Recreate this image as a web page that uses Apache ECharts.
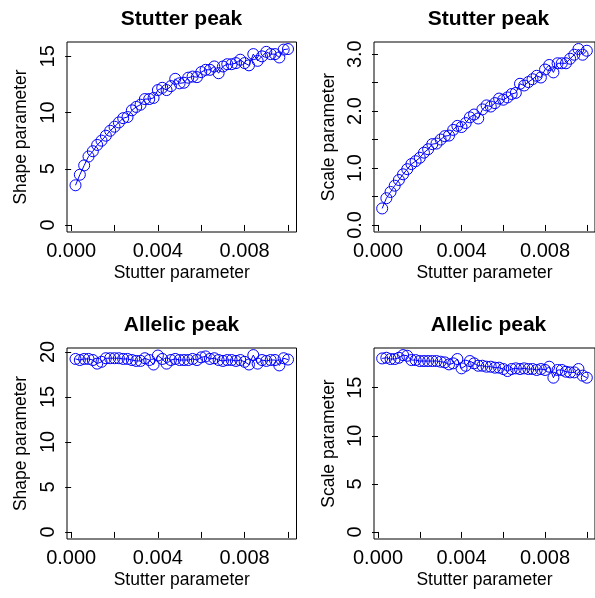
<!DOCTYPE html>
<html>
<head>
<meta charset="utf-8">
<script src="https://cdn.jsdelivr.net/npm/echarts@6/dist/echarts.min.js"></script>
<style>html,body{margin:0;padding:0;background:#fff}#c{width:595px;height:598px}</style>
</head>
<body>
<div id="c"></div>
<script>
// Stutter parameter values (x), 0.0002 .. 0.0100
const stutterParam = [
  0.0002,0.0004,0.0006,0.0008,0.0010,0.0012,0.0014,0.0016,0.0018,0.0020,
  0.0022,0.0024,0.0026,0.0028,0.0030,0.0032,0.0034,0.0036,0.0038,0.0040,
  0.0042,0.0044,0.0046,0.0048,0.0050,0.0052,0.0054,0.0056,0.0058,0.0060,
  0.0062,0.0064,0.0066,0.0068,0.0070,0.0072,0.0074,0.0076,0.0078,0.0080,
  0.0082,0.0084,0.0086,0.0088,0.0090,0.0092,0.0094,0.0096,0.0098,0.0100
];
// Stutter peak: shape parameter
const stutterShape = [
  3.53,4.47,5.30,6.09,6.56,7.12,7.50,7.94,8.38,8.74,
  9.12,9.50,9.60,10.20,10.50,10.70,11.20,11.20,11.30,12.00,
  12.20,12.00,12.35,13.00,12.60,12.65,13.10,13.20,13.15,13.60,
  13.80,13.80,14.10,13.50,14.10,14.30,14.30,14.40,14.70,14.40,
  14.20,15.20,14.60,15.00,15.40,15.20,15.20,14.90,15.60,15.65
];
// Stutter peak: scale parameter
const stutterScale = [
  0.29,0.47,0.58,0.69,0.79,0.89,0.98,1.07,1.12,1.18,
  1.27,1.33,1.42,1.43,1.50,1.56,1.57,1.67,1.74,1.72,
  1.79,1.89,1.94,1.87,2.03,2.10,2.08,2.14,2.22,2.20,
  2.24,2.30,2.32,2.48,2.45,2.51,2.56,2.62,2.59,2.73,
  2.81,2.68,2.84,2.84,2.84,2.92,2.99,3.09,2.99,3.06
];
// Allelic peak: shape parameter
const allelicShape = [
  19.22,19.10,19.22,19.22,19.10,18.70,18.90,19.30,19.30,19.30,
  19.30,19.22,19.22,19.10,19.00,19.00,19.30,19.10,18.60,19.60,
  19.22,18.70,19.10,19.22,19.10,19.10,19.10,19.22,19.10,19.40,
  19.50,19.22,19.30,19.10,19.00,19.10,19.10,19.00,19.10,18.90,
  18.60,19.65,18.70,19.10,19.00,19.10,19.10,18.50,19.30,19.15
];
// Allelic peak: scale parameter
const allelicScale = [
  18.04,18.11,17.98,17.98,18.11,18.39,18.32,17.87,17.87,17.77,
  17.77,17.77,17.77,17.77,17.70,17.63,17.42,17.53,17.98,17.01,
  17.28,17.77,17.53,17.28,17.28,17.18,17.18,17.08,17.08,16.94,
  16.73,16.94,17.01,16.94,17.01,16.94,16.94,16.84,16.94,16.84,
  17.18,16.04,16.84,16.84,16.66,16.59,16.59,16.94,16.25,16.04
];
const panelTitles = ['Stutter peak','Stutter peak','Allelic peak','Allelic peak'];
const yNames = ['Shape parameter','Scale parameter','Shape parameter','Scale parameter'];
const xName = 'Stutter parameter';
const xTicks = [0,0.002,0.004,0.006,0.008,0.010];
const xLabels = [0,0.004,0.008];
const yTicks = [[0,5,10,15],[0,0.5,1,1.5,2,2.5,3],[0,5,10,15,20],[0,5,10,15]];
const yLabels = [[0,5,10,15],[0,1,2,3],[0,5,10,15,20],[0,5,10,15]];
const yLabelDigits = [0,1,0,0];
const seriesData = [stutterShape, stutterScale, allelicShape, allelicScale];

// R-style 4% axis extension
function ext(lo, hi){ const d=(hi-lo)*0.04; return [lo-d, hi+d]; }
const xr = ext(Math.min(...stutterParam), Math.max(...stutterParam));
const yr = seriesData.map(s => ext(0, Math.max(...s)));

const grids = [
  {left:67, top:42, width:229.5, height:190},
  {left:374, top:42, width:229.5, height:190},
  {left:67, top:348, width:229.5, height:191},
  {left:374, top:348, width:229.5, height:191}
];
const yNameGaps = [37, 36, 37, 36];
const FONT = 'Liberation Sans, Arial, sans-serif';

const option = {
  animation:false,
  backgroundColor:'#fff',
  title: panelTitles.map((t,i)=>({
    text:t, left:grids[i].left+114.5, top:grids[i].top-33, textAlign:'center', padding:0,
    textStyle:{fontFamily:FONT, fontSize:21, fontWeight:'bold', color:'#000'}
  })),
  grid: grids.map(g=>Object.assign({show:true, borderColor:'#000', borderWidth:1, backgroundColor:'transparent', containLabel:false}, g)),
  xAxis: grids.map((g,i)=>({
    gridIndex:i, type:'value', min:xr[0], max:xr[1],
    name:xName, nameLocation:'middle', nameGap:32,
    nameTextStyle:{fontFamily:FONT, fontSize:17.5, color:'#000'},
    axisLine:{show:false},
    axisTick:{show:true, length:6, lineStyle:{color:'#000'}, customValues:xTicks},
    axisLabel:{show:true, margin:9, fontFamily:FONT, fontSize:20, color:'#000', customValues:xLabels, formatter:v=>v.toFixed(3)},
    splitLine:{show:false}
  })),
  yAxis: grids.map((g,i)=>({
    gridIndex:i, type:'value', min:yr[i][0], max:yr[i][1],
    name:yNames[i], nameLocation:'middle', nameGap:yNameGaps[i], nameRotate:90,
    nameTextStyle:{fontFamily:FONT, fontSize:17.5, color:'#000'},
    axisLine:{show:false},
    axisTick:{show:true, length:6, lineStyle:{color:'#000'}, customValues:yTicks[i]},
    axisLabel:{show:true, rotate:90, margin:9, fontFamily:FONT, fontSize:20, color:'#000', customValues:yLabels[i], formatter:v=>v.toFixed(yLabelDigits[i])},
    splitLine:{show:false}
  })),
  series: seriesData.map((d,i)=>({
    type:'line', xAxisIndex:i, yAxisIndex:i,
    data: stutterParam.map((x,k)=>[x,d[k]]),
    symbol:'circle', symbolSize:11, showAllSymbol:true,
    itemStyle:{color:'rgba(0,0,0,0)', borderColor:'#0000ff', borderWidth:1},
    lineStyle:{color:'#0000ff', width:1},
    clip:false
  }))
};
const chart = echarts.init(document.getElementById('c'), null, {renderer:'canvas'});
chart.setOption(option);
</script>
</body>
</html>
